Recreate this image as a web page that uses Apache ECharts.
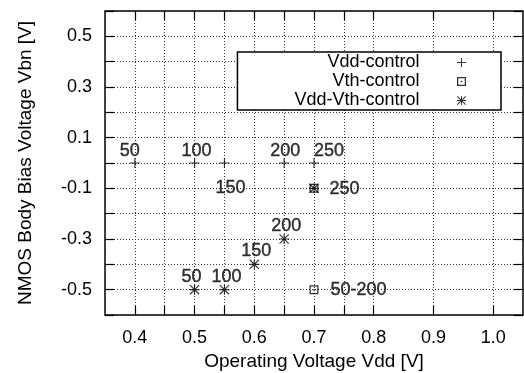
<!DOCTYPE html>
<html>
<head>
<meta charset="utf-8">
<title>NMOS body bias vs Vdd</title>
<script src="https://cdn.jsdelivr.net/npm/echarts@6/dist/echarts.min.js"></script>
<style>
  html, body { margin: 0; padding: 0; background: #fff; }
  #chart { width: 524px; height: 373px; }
</style>
</head>
<body>
<div id="chart"></div>
<script>
// axis ticks / labels
var xTicks = [0.4, 0.45, 0.5, 0.55, 0.6, 0.65, 0.7, 0.75, 0.8, 0.9, 1.0];
var xLabels = [0.4, 0.5, 0.6, 0.7, 0.8, 0.9, 1.0];
var yTicks = [-0.6, -0.5, -0.4, -0.3, -0.2, -0.1, 0, 0.1, 0.2, 0.3, 0.4, 0.5, 0.6];
var yLabels = [-0.5, -0.3, -0.1, 0.1, 0.3, 0.5];

// series: [Vdd, Vbn], point tag
var vddCtrl = [[0.4, 0], [0.5, 0], [0.55, 0], [0.65, 0], [0.7, 0]];
var vddCtrlTags = ['50', '100', '150', '200', '250'];
var vthCtrl = [[0.7, -0.1], [0.7, -0.5]];
var vthCtrlTags = ['250', '50-200'];
var vddVthCtrl = [[0.5, -0.5], [0.55, -0.5], [0.6, -0.4], [0.65, -0.3], [0.7, -0.1]];
var vddVthCtrlTags = ['50', '100', '150', '200', ''];

// where each tag sits relative to its point (px)
var vddCtrlOff = [[-5, -12], [2, -12], [6, 25], [1, -12], [15, -12]];
var vthCtrlOff = [[30, 0], [44, 0]];
var vddVthCtrlOff = [[-3, -13], [2, -13], [2, -13], [2, -13], [0, 0]];

var FONT = 'Liberation Sans';

var plusPath = 'path://M0,4.45H10V5.55H0Z M4.45,0H5.55V10H4.45Z';
var boxPath = 'path://M0,0H10V10H0Z M1.4,1.4V8.6H8.6V1.4Z M4.2,4.2H5.8V5.8H4.2Z';
var starPath = 'path://M0,4.45H10V5.55H0Z M4.45,0H5.55V10H4.45Z ' +
  'M0,0.8L0.8,0L10,9.2L9.2,10Z M9.2,0L10,0.8L0.8,10L0,9.2Z';

function points(arr, tags, off, size) {
  var out = [];
  for (var i = 0; i < arr.length; i++) {
    out.push({
      value: arr[i],
      label: {
        show: tags[i] !== '',
        formatter: tags[i],
        // position relative to the symbol's box, so centre is size/2
        position: [Math.round(size / 2 + off[i][0]), Math.round(size / 2 + off[i][1])]
      }
    });
  }
  return out;
}

var labelStyle = {
  color: '#000',
  fontFamily: FONT,
  fontSize: 18,
  textBorderColor: '#000',
  textBorderWidth: 0.4,
  align: 'center',
  verticalAlign: 'middle'
};

var tickStyle = { color: '#000', width: 1.2 };
var gridLine = { show: true, lineStyle: { color: '#333', width: 1, type: [1, 2] } };

var chart = echarts.init(document.getElementById('chart'));

var option = {
  backgroundColor: '#fff',
  animation: false,
  textStyle: { fontFamily: FONT },
  grid: {
    left: 105, right: 1, top: 11, bottom: 58,
    outerBoundsMode: 'none',
    containLabel: false,
    show: true, borderColor: '#000', borderWidth: 1.5
  },
  legend: {
    orient: 'vertical',
    align: 'right',
    right: 23,
    top: 52,
    itemWidth: 74,
    itemHeight: 9,
    itemGap: 0,
    padding: [1, 35, 0, 57],
    backgroundColor: '#fff',
    borderColor: '#000',
    borderWidth: 1.5,
    borderRadius: 0,
    textStyle: { color: '#000', fontFamily: FONT, fontSize: 18, lineHeight: 19 },
    data: ['Vdd-control', 'Vth-control', 'Vdd-Vth-control']
  },
  xAxis: [{
    type: 'value',
    position: 'bottom',
    min: 0.35, max: 1.05, interval: 0.05,
    name: 'Operating Voltage Vdd [V]',
    nameLocation: 'middle',
    nameGap: 36,
    nameTextStyle: { color: '#000', fontFamily: FONT, fontSize: 19 },
    axisLine: { show: false, onZero: false },
    axisTick: { show: true, inside: true, length: 9, customValues: xTicks, lineStyle: tickStyle },
    axisLabel: { customValues: xLabels, margin: 14, color: '#000', fontFamily: FONT, fontSize: 18,
      formatter: function (v) { return v.toFixed(1); } },
    splitLine: gridLine
  }, {
    type: 'value',
    position: 'top',
    min: 0.35, max: 1.05, interval: 0.05,
    axisLine: { show: false, onZero: false },
    axisTick: { show: true, inside: true, length: 9, customValues: xTicks, lineStyle: tickStyle },
    axisLabel: { show: false },
    splitLine: { show: false }
  }],
  yAxis: [{
    type: 'value',
    position: 'left',
    min: -0.6, max: 0.6, interval: 0.1,
    name: 'NMOS Body Bias Voltage Vbn [V]',
    nameLocation: 'middle',
    nameRotate: 90,
    nameGap: 70,
    nameTextStyle: { color: '#000', fontFamily: FONT, fontSize: 19 },
    axisLine: { show: false, onZero: false },
    axisTick: { show: true, inside: true, length: 9, customValues: yTicks, lineStyle: tickStyle },
    axisLabel: { customValues: yLabels, margin: 13, color: '#000', fontFamily: FONT, fontSize: 18,
      formatter: function (v) { return v.toFixed(1); } },
    splitLine: gridLine
  }, {
    type: 'value',
    position: 'right',
    min: -0.6, max: 0.6, interval: 0.1,
    axisLine: { show: false, onZero: false },
    axisTick: { show: true, inside: true, length: 9, customValues: yTicks, lineStyle: tickStyle },
    axisLabel: { show: false },
    splitLine: { show: false }
  }],
  series: [{
    name: 'Vdd-control',
    type: 'scatter',
    symbol: plusPath,
    symbolSize: 10,
    itemStyle: { color: '#000' },
    label: labelStyle,
    data: points(vddCtrl, vddCtrlTags, vddCtrlOff, 10)
  }, {
    name: 'Vth-control',
    type: 'scatter',
    symbol: boxPath,
    symbolSize: 9,
    itemStyle: { color: '#000' },
    label: labelStyle,
    data: points(vthCtrl, vthCtrlTags, vthCtrlOff, 9)
  }, {
    name: 'Vdd-Vth-control',
    type: 'scatter',
    symbol: starPath,
    symbolSize: 10,
    itemStyle: { color: '#000' },
    label: labelStyle,
    data: points(vddVthCtrl, vddVthCtrlTags, vddVthCtrlOff, 10)
  }]
};

chart.setOption(option);
</script>
</body>
</html>
